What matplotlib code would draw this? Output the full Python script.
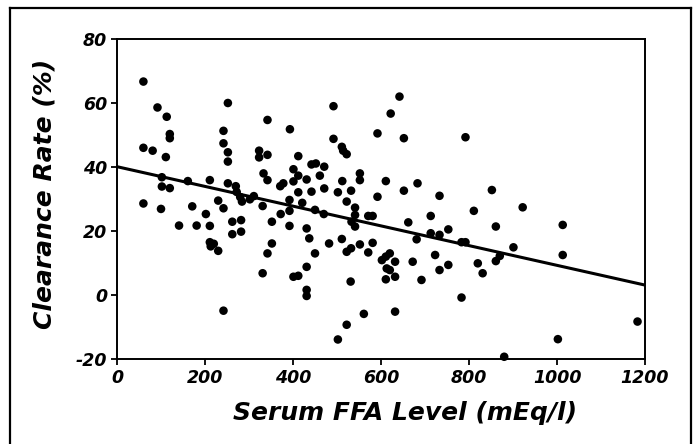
import matplotlib
matplotlib.use('Agg')
import matplotlib.pyplot as plt
from matplotlib.lines import Line2D

# serum FFA level (mEq/l) and clearance rate (%)
ffa = [60, 92, 113, 120, 120, 60, 81, 111, 102, 102, 120, 161, 211, 252, 242,
       242, 252, 252, 252, 270, 272, 342, 323, 323, 342, 333, 342, 393, 412, 401,
       412, 401, 378, 371, 412,
       60, 100, 141, 171, 181, 202, 211, 211, 220, 213, 230, 230, 242, 262, 262,
       282, 282, 280, 284, 302, 311, 331, 352, 352, 342, 331, 372, 392, 392, 392,
       421, 431, 437, 431, 401, 412, 431, 431, 242,
       492, 642, 622, 592, 652, 792, 492, 511, 514, 522, 442, 452, 471, 461, 431,
       552, 552, 512, 611, 683, 471, 442, 502, 532, 652, 592, 733,
       450, 470, 522, 541, 541, 533, 541, 571, 581, 482, 511, 450, 522, 532, 552,
       581, 571, 531, 602, 611, 620, 632, 613, 620, 611, 632, 662, 681, 672, 692,
       713, 713, 733, 753, 723, 733, 753, 783, 792, 783, 811, 820, 632, 561, 522,
       502,
       852, 922, 861, 1013, 901, 870, 861, 831, 1013, 1183, 1002, 880]
clearance = [66.7, 58.6, 55.7, 50.3, 49.0, 46.0, 45.1, 43.1, 36.8, 33.9, 33.4, 35.6, 35.9, 60.0, 51.3,
             47.4, 44.6, 41.7, 34.9, 34.0, 32.2, 54.7, 45.1, 43.0, 43.8, 38.0, 35.9, 51.8, 43.4, 39.3,
             37.3, 35.5, 34.9, 34.0, 32.1,
             28.6, 26.9, 21.7, 27.7, 21.7, 25.3, 21.6, 16.5, 16.0, 15.2, 13.8, 29.5, 27.1, 22.9, 19.0,
             23.4, 19.8, 30.6, 29.2, 29.9, 30.9, 27.8, 22.9, 16.1, 13.0, 6.8, 25.3, 29.7, 26.3, 21.6,
             28.8, 20.8, 17.7, 8.8, 5.7, 6.0, 1.6, -0.3, -4.9,
             59.0, 62.0, 56.7, 50.5, 49.0, 49.3, 48.8, 46.3, 45.1, 44.0, 40.8, 41.1, 40.1, 37.3, 36.1,
             38.0, 35.9, 35.6, 35.6, 34.9, 33.3, 32.3, 32.1, 32.6, 32.6, 30.7, 31.0,
             26.6, 25.3, 29.2, 27.3, 25.0, 22.9, 21.4, 24.7, 24.7, 16.1, 17.5, 13.0, 13.5, 14.6, 15.8,
             16.3, 13.3, 4.2, 10.9, 12.0, 13.0, 10.4, 8.3, 7.8, 4.9, 5.7, 22.7, 17.4, 10.4, 4.7,
             24.7, 19.3, 18.8, 20.5, 12.5, 7.8, 9.4, 16.5, 16.5, -0.8, 26.3, 9.9, -5.2, -5.9, -9.3,
             -13.9,
             32.8, 27.4, 21.4, 21.9, 14.9, 12.2, 10.6, 6.8, 12.5, -8.3, -13.8, -19.3]

# regression line end points as drawn
fit_x = [0, 1200]
fit_y = [40.1, 3.1]

x_ticks = [0, 200, 400, 600, 800, 1000, 1200]
y_ticks = [-20, 0, 20, 40, 60, 80]

FONT = dict(family='DejaVu Sans', weight='bold', style='italic')

fig = plt.figure(figsize=(6.93, 4.44), dpi=100)
ax = fig.add_axes([117 / 693, 1 - 359 / 444, 528 / 693, 320 / 444])

ax.scatter(ffa, clearance, s=38, color='black', edgecolors='none', zorder=3, clip_on=False)
ax.plot(fit_x, fit_y, color='black', lw=2.2, zorder=2)

ax.set_xlim(0, 1200)
ax.set_ylim(-20, 80)
ax.set_xticks(x_ticks)
ax.set_yticks(y_ticks)
ax.set_xticklabels([str(t) for t in x_ticks], fontsize=12.5, **FONT)
ax.set_yticklabels([str(t) for t in y_ticks], fontsize=12.5, **FONT)
ax.tick_params(direction='out', length=4, width=1.3, pad=3)
for sp in ax.spines.values():
    sp.set_linewidth(1.4)

fig.text(45 / 693, 1 - 194 / 444, 'Clearance Rate (%)', rotation=90, ha='center',
         va='center', fontsize=18, **FONT)
fig.text(405 / 693, 1 - 413 / 444, 'Serum FFA Level (mEq/l)', ha='center',
         va='center', fontsize=18, **FONT)

# outer frame, bottom edge falls off the picture
x0, x1 = 10 / 693, 691 / 693
yt = 1 - 8 / 444
for xs, ys in [([x0, x0], [-0.05, yt]), ([x0, x1], [yt, yt]), ([x1, x1], [yt, -0.05])]:
    fig.add_artist(Line2D(xs, ys, color='black', lw=1.6, transform=fig.transFigure))

fig.savefig('out.png', dpi=100)
